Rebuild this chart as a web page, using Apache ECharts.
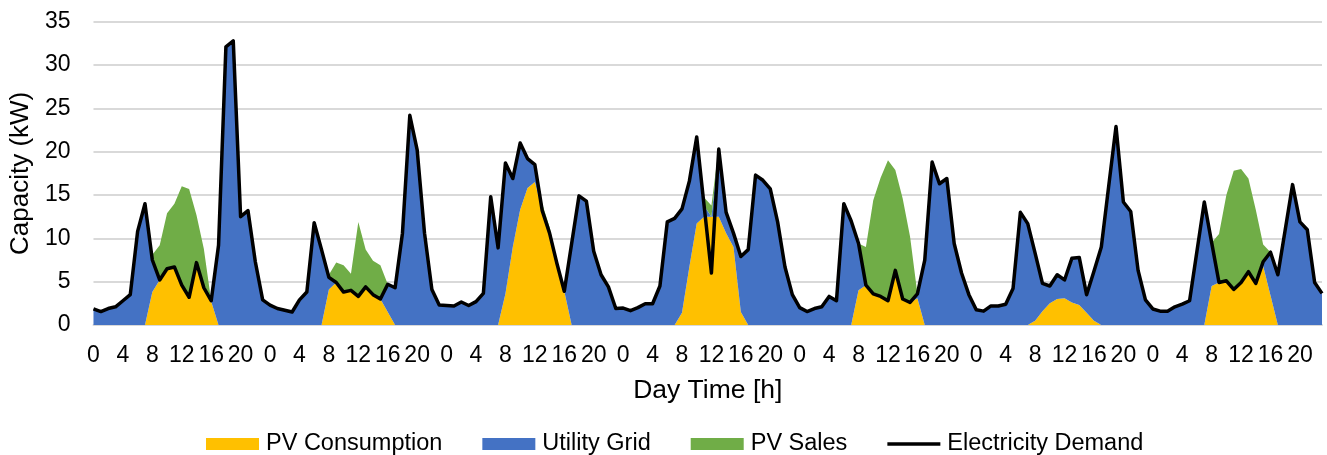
<!DOCTYPE html>
<html>
<head>
<meta charset="utf-8">
<title>Hourly capacity over one week</title>
<script src="https://cdn.jsdelivr.net/npm/echarts@6/dist/echarts.min.js"></script>
<style>
  html, body { margin: 0; padding: 0; background: #ffffff; }
  #chart { width: 1327px; height: 455px; }
</style>
</head>
<body>
<div id="chart"></div>
<script>
// Hour-of-day labels for one day; the week repeats them seven times.
const hourOfDay = [0, 1, 2, 3, 4, 5, 6, 7, 8, 9, 10, 11, 12, 13, 14, 15, 16, 17, 18, 19, 20, 21, 22, 23];
const dayCount = 7;

// PV output used on site (kW), hourly over the week
const pvConsumption = [
  0, 0, 0, 0, 0, 0, 0, 0, 3.8, 5.2, 6.5, 6.7, 4.6, 3.2, 7.2, 4.3, 2.7, 0, 0, 0, 0, 0, 0, 0,
  0, 0, 0, 0, 0, 0, 0, 0, 4.1, 4.9, 3.8, 4.0, 3.3, 4.4, 3.5, 3.0, 1.5, 0, 0, 0, 0, 0, 0, 0,
  0, 0, 0, 0, 0, 0, 0, 0, 3.6, 9.0, 13.3, 15.8, 16.5, 13.2, 10.6, 7.1, 3.9, 0, 0, 0, 0, 0, 0, 0,
  0, 0, 0, 0, 0, 0, 0, 0, 1.4, 6.7, 11.7, 12.5, 12.5, 12.5, 10.6, 9.0, 1.5, 0, 0, 0, 0, 0, 0, 0,
  0, 0, 0, 0, 0, 0, 0, 0, 4.0, 4.6, 3.6, 3.3, 2.8, 6.3, 3.0, 2.6, 3.1, 0, 0, 0, 0, 0, 0, 0,
  0, 0, 0, 0, 0, 0, 0, 0, 0.5, 1.6, 2.5, 3.0, 3.1, 2.6, 2.3, 1.4, 0.5, 0, 0, 0, 0, 0, 0, 0,
  0, 0, 0, 0, 0, 0, 0, 0, 4.5, 4.9, 5.1, 4.1, 4.9, 6.15, 4.8, 6.8, 3.4, 0, 0, 0, 0, 0, 0, 0
];

// Power drawn from the utility grid (kW)
const utilityGrid = [
  1.85, 1.55, 1.9, 2.1, 2.8, 3.5, 10.8, 14.0, 3.7, 0, 0, 0, 0, 0, 0, 0, 0.1, 9.2, 32.1, 32.8, 12.5, 13.2, 7.3, 2.9,
  2.3, 1.9, 1.7, 1.5, 2.9, 3.8, 11.8, 8.7, 1.4, 0, 0, 0, 0, 0, 0, 0, 3.2, 4.3, 10.6, 24.2, 20.2, 10.6, 4.1, 2.3,
  2.25, 2.2, 2.65, 2.25, 2.7, 3.65, 14.8, 8.9, 15.1, 7.9, 7.7, 3.4, 2.0, 0, 0, 0, 0, 9.4, 14.9, 14.3, 8.5, 5.8, 4.4, 1.9,
  1.95, 1.65, 2.0, 2.45, 2.45, 4.5, 11.9, 12.3, 12.0, 9.9, 10.0, 1.3, 0, 7.8, 2.4, 1.6, 6.4, 8.7, 17.3, 16.7, 15.7, 11.9, 6.7, 3.5,
  2.0, 1.55, 1.9, 2.1, 3.3, 2.8, 14.0, 12.0, 5.4, 0, 0, 0, 0, 0, 0, 0, 0.5, 7.5, 18.8, 16.3, 16.9, 9.4, 6.0, 3.5,
  1.75, 1.6, 2.2, 2.2, 2.4, 4.2, 13.0, 11.7, 7.8, 3.2, 2.0, 2.8, 2.1, 5.1, 5.5, 2.1, 5.7, 9.0, 16.0, 22.9, 14.2, 13.1, 6.3, 2.9,
  1.85, 1.6, 1.6, 2.1, 2.4, 2.8, 8.5, 14.2, 5.0, 0, 0, 0, 0, 0, 0, 0.5, 5.0, 5.8, 11.0, 16.2, 11.9, 11.0, 4.9, 3.65
];

// Surplus PV fed back to the grid (kW)
const pvSales = [
  0, 0, 0, 0, 0, 0, 0, 0, 0.6, 4.0, 6.4, 7.3, 11.4, 12.5, 5.5, 4.5, 0, 0, 0, 0, 0, 0, 0, 0,
  0, 0, 0, 0, 0, 0, 0, 0, 0.3, 2.3, 3.1, 1.9, 8.6, 4.3, 3.9, 3.9, 0, 0, 0, 0, 0, 0, 0, 0,
  0, 0, 0, 0, 0, 0, 0, 0, 0, 0, 0, 0, 0, 0.8, 0.7, 0.4, 0, 0, 0, 0, 0, 0, 0, 0,
  0, 0, 0, 0, 0, 0, 0, 0, 0, 0, 0, 0.9, 1.3, 0.2, 0, 0, 0, 0, 0, 0, 0, 0, 0, 0,
  0, 0, 0, 0, 0, 0, 0, 0, 0, 4.4, 10.8, 13.7, 16.2, 11.6, 11.6, 7.6, 0, 0, 0, 0, 0, 0, 0, 0,
  0, 0, 0, 0, 0, 0, 0, 0, 0, 0, 0, 0, 0, 0, 0, 0, 0, 0, 0, 0, 0, 0, 0, 0,
  0, 0, 0, 0, 0, 0, 0, 0, 0, 5.6, 9.9, 13.7, 13.1, 10.75, 8.5, 2.0, 0, 0, 0, 0, 0, 0, 0, 0
];

// Total electricity demand of the building (kW)
const electricityDemand = [
  1.85, 1.55, 1.9, 2.1, 2.8, 3.5, 10.8, 14.0, 7.5, 5.2, 6.5, 6.7, 4.6, 3.2, 7.2, 4.3, 2.8, 9.2, 32.1, 32.8, 12.5, 13.2, 7.3, 2.9,
  2.3, 1.9, 1.7, 1.5, 2.9, 3.8, 11.8, 8.7, 5.5, 4.9, 3.8, 4.0, 3.3, 4.4, 3.5, 3.0, 4.7, 4.3, 10.6, 24.2, 20.2, 10.6, 4.1, 2.3,
  2.25, 2.2, 2.65, 2.25, 2.7, 3.65, 14.8, 8.9, 18.7, 16.9, 21.0, 19.2, 18.5, 13.2, 10.6, 7.1, 3.9, 9.4, 14.9, 14.3, 8.5, 5.8, 4.4, 1.9,
  1.95, 1.65, 2.0, 2.45, 2.45, 4.5, 11.9, 12.3, 13.4, 16.6, 21.7, 13.8, 6.0, 20.3, 13.0, 10.6, 7.9, 8.7, 17.3, 16.7, 15.7, 11.9, 6.7, 3.5,
  2.0, 1.55, 1.9, 2.1, 3.3, 2.8, 14.0, 12.0, 9.4, 4.6, 3.6, 3.3, 2.8, 6.3, 3.0, 2.6, 3.6, 7.5, 18.8, 16.3, 16.9, 9.4, 6.0, 3.5,
  1.75, 1.6, 2.2, 2.2, 2.4, 4.2, 13.0, 11.7, 8.3, 4.8, 4.5, 5.8, 5.2, 7.7, 7.8, 3.5, 6.2, 9.0, 16.0, 22.9, 14.2, 13.1, 6.3, 2.9,
  1.85, 1.6, 1.6, 2.1, 2.4, 2.8, 8.5, 14.2, 9.5, 4.9, 5.1, 4.1, 4.9, 6.15, 4.8, 7.3, 8.4, 5.8, 11.0, 16.2, 11.9, 11.0, 4.9, 3.65
];

// One category per hour of the week, labelled with the hour of the day
const categories = [];
for (let d = 0; d < dayCount; d++) {
  hourOfDay.forEach(h => categories.push(String(h)));
}

const FONT = '"Liberation Sans", Arial, sans-serif';
const TEXT = '#000000';
const GRID = '#D9D9D9';

function areaSeries(name, data, color) {
  return {
    name: name,
    type: 'line',
    stack: 'supply',
    data: data,
    symbol: 'none',
    lineStyle: { width: 0 },
    itemStyle: { color: color },
    areaStyle: { color: color, opacity: 1 },
    emphasis: { disabled: true }
  };
}

const chart = echarts.init(document.getElementById('chart'), null, { renderer: 'canvas' });

chart.setOption({
  animation: false,
  backgroundColor: '#ffffff',
  textStyle: { fontFamily: FONT },
  grid: { left: 93, right: 5, top: 21.7, bottom: 130, containLabel: false },
  legend: {
    left: 201,
    top: 427,
    itemWidth: 53,
    itemHeight: 12,
    itemGap: 40,
    symbolKeepAspect: true,
    textStyle: { fontFamily: FONT, fontSize: 23.5, color: TEXT, padding: [0, 0, 0, 2] },
    data: [
      { name: 'PV Consumption', icon: 'rect' },
      { name: 'Utility Grid', icon: 'rect' },
      { name: 'PV Sales', icon: 'rect' },
      { name: 'Electricity Demand', icon: 'path://M0,0 H53 V3.5 H0 Z', itemStyle: { color: '#000000' } }
    ]
  },
  xAxis: {
    type: 'category',
    boundaryGap: false,
    data: categories,
    name: 'Day Time [h]',
    nameLocation: 'middle',
    nameGap: 52,
    nameTextStyle: { fontFamily: FONT, fontSize: 26.5, color: TEXT },
    axisLine: { show: true, lineStyle: { color: GRID, width: 2 } },
    axisTick: { show: false },
    axisLabel: { interval: 3, margin: 19, fontFamily: FONT, fontSize: 23, color: TEXT },
    splitLine: { show: false }
  },
  yAxis: {
    type: 'value',
    min: 0,
    max: 35,
    interval: 5,
    name: 'Capacity (kW)',
    nameLocation: 'middle',
    nameGap: 56,
    nameTextStyle: { fontFamily: FONT, fontSize: 26, color: TEXT },
    axisLine: { show: false },
    axisTick: { show: false },
    axisLabel: { margin: 23, fontFamily: FONT, fontSize: 23, color: TEXT },
    splitLine: { lineStyle: { color: GRID, width: 2 } }
  },
  series: [
    areaSeries('PV Consumption', pvConsumption, '#FFC000'),
    areaSeries('Utility Grid', utilityGrid, '#4472C4'),
    areaSeries('PV Sales', pvSales, '#70AD47'),
    {
      name: 'Electricity Demand',
      type: 'line',
      data: electricityDemand,
      symbol: 'none',
      z: 5,
      lineStyle: { color: '#000000', width: 3.5, join: 'round' },
      itemStyle: { color: '#000000' },
      emphasis: { disabled: true }
    }
  ]
});
</script>
</body>
</html>
